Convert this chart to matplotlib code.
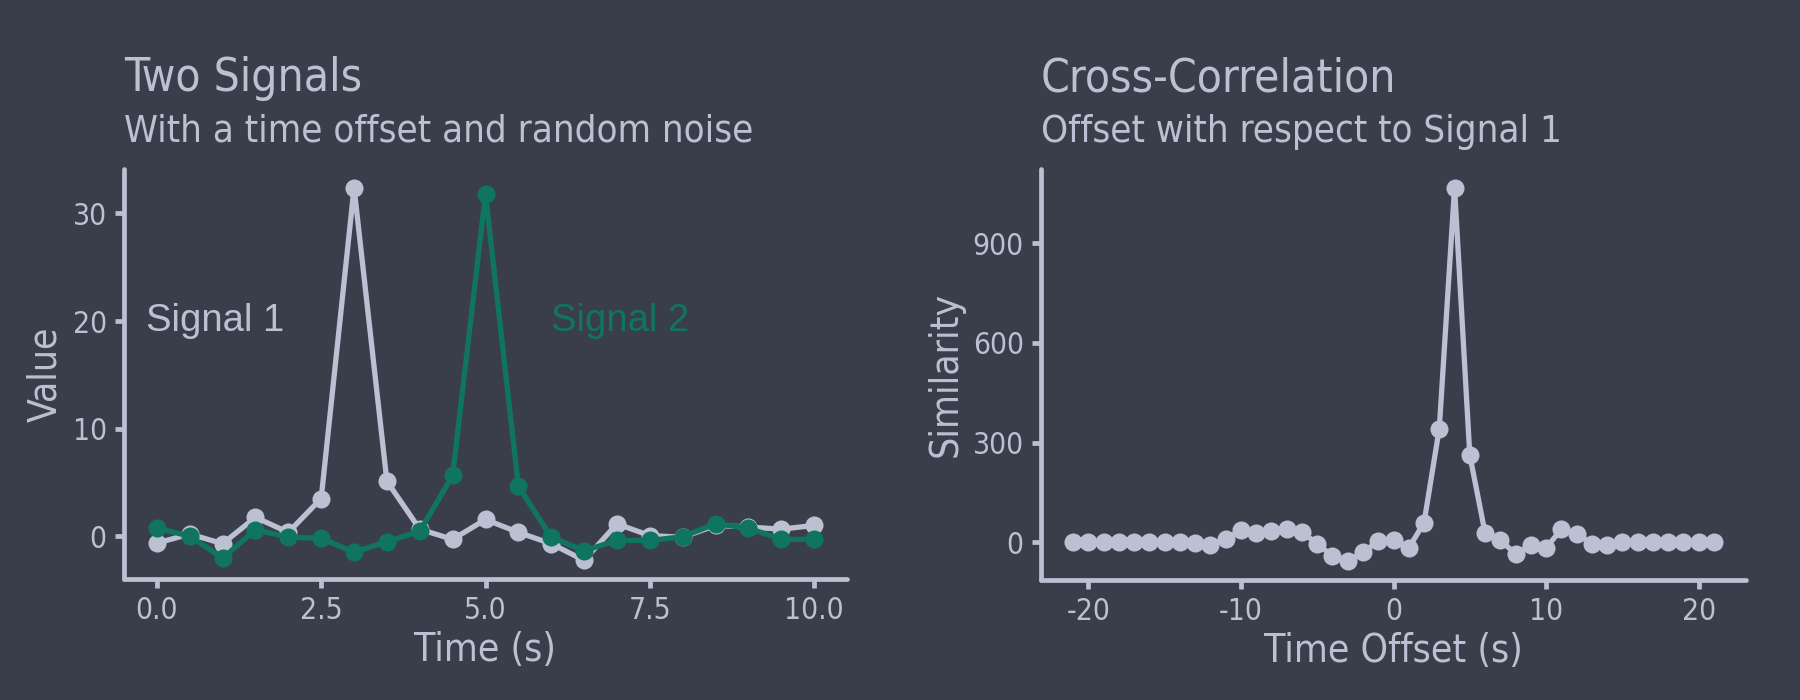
import numpy as np
import matplotlib
matplotlib.use("Agg")
import matplotlib.pyplot as plt

# ---- data ----
time_s = [0.0, 0.5, 1.0, 1.5, 2.0, 2.5, 3.0, 3.5, 4.0, 4.5, 5.0,
          5.5, 6.0, 6.5, 7.0, 7.5, 8.0, 8.5, 9.0, 9.5, 10.0]
signal_1 = [-0.65, 0.2, -0.7, 1.75, 0.35, 3.5, 32.4, 5.1, 0.65, -0.3, 1.55,
            0.35, -0.7, -2.25, 1.15, 0.05, -0.1, 1.0, 0.85, 0.65, 1.0]
signal_2 = [0.75, 0.0, -2.05, 0.6, -0.1, -0.2, -1.5, -0.5, 0.45, 5.65, 31.8,
            4.65, -0.1, -1.35, -0.4, -0.4, -0.05, 1.15, 0.75, -0.3, -0.3]

lags = list(range(-21, 22))
similarity = [0, 0, 0, 0, 0, 0, 0, 0, -2, -8, 10, 35, 28, 32, 40, 30, -5, -42,
              -58, -30, 2, 5, -18, 58, 342, 1068, 262, 28, 5, -35, -10, -17,
              38, 25, -5, -10, 0, 0, 0, 0, 0, 0, 0]

left_xticks = [0.0, 2.5, 5.0, 7.5, 10.0]
left_yticks = [0, 10, 20, 30]
right_xticks = [-20, -10, 0, 10, 20]
right_yticks = [0, 300, 600, 900]

# ---- style ----
BG = "#3A3E4B"
FG = "#BBC1D3"
GREEN = "#0F7561"
plt.rcParams["axes.unicode_minus"] = False
FONT = "DejaVu Sans"
STRETCH = "condensed"

fig = plt.figure(figsize=(18, 7), dpi=100, facecolor=BG)
W, H = 1800, 700


def make_axes(l, r, t, b):
    return fig.add_axes([l / W, 1 - b / H, (r - l) / W, (b - t) / H])


ax1 = make_axes(124, 847, 169, 579)
ax2 = make_axes(1041, 1746, 169, 580)


def style(ax, xlab, ylab):
    ax.set_facecolor(BG)
    for s in ["top", "right"]:
        ax.spines[s].set_visible(False)
    for s in ["left", "bottom"]:
        ax.spines[s].set_color(FG)
        ax.spines[s].set_linewidth(3.4)
        ax.spines[s].set_capstyle("round")
    ax.tick_params(colors=FG, width=3.4, length=6.5, labelsize=21.5, pad=6)
    for lab in ax.get_xticklabels() + ax.get_yticklabels():
        lab.set_fontfamily(FONT)
        lab.set_fontstretch(STRETCH)
    ax.set_xlabel(xlab, color=FG, fontsize=28, family=FONT, stretch=STRETCH, labelpad=4)
    ax.set_ylabel(ylab, color=FG, fontsize=28, family=FONT, stretch=STRETCH, labelpad=6)


def expand(vals, frac=0.05):
    lo, hi = min(vals), max(vals)
    d = (hi - lo) * frac
    return lo - d, hi + d


MS = 13
LW = 3.8

# left chart
ax1.plot(time_s, signal_1, color=FG, lw=LW, marker="o", ms=MS, mew=0, zorder=3,
         solid_joinstyle="round")
ax1.plot(time_s, signal_2, color=GREEN, lw=LW, marker="o", ms=MS, mew=0, zorder=4,
         solid_joinstyle="round")
ax1.set_xticks(left_xticks)
ax1.set_xticklabels([f"{v:.1f}" for v in left_xticks])
ax1.set_yticks(left_yticks)
ax1.set_xlim(*expand(time_s))
ax1.set_ylim(*expand(signal_1 + signal_2))
ax1.text(0.88, 20, "Signal 1", color=FG, fontsize=27.5, family="Liberation Sans",
         ha="center", va="center")
ax1.text(7.05, 20, "Signal 2", color=GREEN, fontsize=27.5, family="Liberation Sans",
         ha="center", va="center")
style(ax1, "Time (s)", "Value")

# right chart
ax2.plot(lags, similarity, color=FG, lw=LW, marker="o", ms=MS, mew=0, zorder=3,
         solid_joinstyle="round")
ax2.set_xticks(right_xticks)
ax2.set_xticklabels([str(v) for v in right_xticks])
ax2.set_yticks(right_yticks)
ax2.set_xlim(-23.1, 23.1)
ax2.set_ylim(*expand(similarity))
style(ax2, "Time Offset (s)", "Similarity")

# titles
for x, title, sub in [(124, "Two Signals", "With a time offset and random noise"),
                      (1041, "Cross-Correlation", "Offset with respect to Signal 1")]:
    fig.text(x / W, 1 - 91 / H, title, color=FG, fontsize=33, family=FONT,
             stretch=STRETCH, ha="left", va="baseline")
    fig.text(x / W, 1 - 142 / H, sub, color=FG, fontsize=27.5, family=FONT,
             stretch=STRETCH, ha="left", va="baseline")

fig.savefig("out.png", dpi=100, facecolor=BG)
